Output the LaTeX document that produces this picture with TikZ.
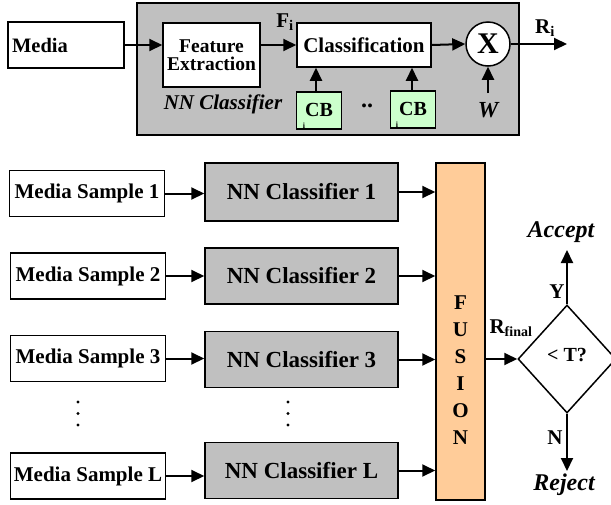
\documentclass[tikz,border=0pt]{standalone}
\usepackage{fontspec}
\setmainfont{Liberation Serif}
\usetikzlibrary{arrows.meta,shapes.geometric}
\newcommand{\fsz}[1]{\fontsize{#1}{#1}\selectfont}
\definecolor{graybox}{HTML}{C0C0C0}
\definecolor{cbgreen}{HTML}{CCFFCC}
\definecolor{fusionor}{HTML}{FFCC99}
\tikzset{
  blk/.style={draw, line width=1.5pt, inner sep=0pt, font=\bfseries\fsz{20}, align=center},
  whitebox/.style={blk, fill=white},
  nnbox/.style={blk, fill=graybox, minimum width=193, minimum height=56, font=\bfseries\fsz{23}},
  msbox/.style={blk, fill=white, minimum width=155, minimum height=46, font=\bfseries\fsz{21}},
  cbbox/.style={blk, fill=cbgreen, minimum width=45, minimum height=37},
  arr/.style={line width=2pt, -{Triangle[length=13pt,width=12pt]}},
  lbl/.style={inner sep=0pt, font=\bfseries\fsz{20}},
  ilbl/.style={inner sep=0pt, font=\bfseries\itshape\fsz{21}},
}
\begin{document}
\begin{tikzpicture}[x=1pt,y=-1pt]
\useasboundingbox (0,0) rectangle (611,504);
% ---------- top part ----------
\node[blk, fill=graybox, minimum width=382, minimum height=132] (outer) at (328,69) {};
\node[whitebox, minimum width=116, minimum height=46, font=\bfseries\fsz{20.5}] (media) at (66,45) {\hspace*{-52pt}Media};
\node[whitebox, minimum width=97, minimum height=64, font=\bfseries\fsz{19.5}] (fe) at (211.5,55) {Feature\\[-1pt]Extraction};
\node[whitebox, minimum width=134, minimum height=44, font=\bfseries\fsz{21}] (cls) at (364,45) {Classification};
\node[draw, circle, line width=1.5pt, fill=white, minimum size=44, inner sep=0pt, font=\bfseries\fsz{30}] (mx) at (488,44) {X};
\node[cbbox] (cb1) at (319,110.5) {\raisebox{2pt}{CB}};
\node[cbbox] (cb2) at (413,109.5) {\raisebox{2pt}{CB}};
\node[inner sep=0pt, font=\bfseries\fsz{8}] (cbi1) at (304,126) {i};
\node[inner sep=0pt, font=\bfseries\fsz{8}] (cbi2) at (397,125) {i};
\node[lbl, font=\bfseries\fsz{24}] (dd) at (367,106) {..};
\node[ilbl] (nnlab) at (223,104) {NN Classifier};
\node[ilbl, font=\bfseries\itshape\fsz{23}] (wlab) at (488,110) {W};
\coordinate (wtail) at (488,93);
\node[lbl, font=\bfseries\fsz{21}] (flab) at (285,22) {F\textsubscript{i}};
\node[lbl, font=\bfseries\fsz{21}] (rlab) at (545,28) {R\textsubscript{i}};
\coordinate (rend) at (567,44);

\draw[arr] (media.east) -- (media.east -| fe.west);
\draw[arr] (cls.west -| fe.east) -- (cls.west);
\draw[arr] (cls.east) -- (mx.west);
\draw[arr] (mx.east) -- (rend);
\draw[arr] (wtail) -- (mx.south);
\draw[arr] (cb1.north -| 316,0) -- (cls.south -| 316,0);
\draw[arr] (cb2.north -| 412,0) -- (cls.south -| 412,0);

% ---------- bottom part ----------
\node[msbox] (ms1) at (87,193.5) {Media Sample 1};
\node[msbox] (ms2) at (88,276) {Media Sample 2};
\node[msbox] (ms3) at (88,358.5) {Media Sample 3};
\node[msbox] (msl) at (88,476) {Media Sample L};

\node[nnbox, minimum height=58] (nn1) at (301.5,192) {NN Classifier 1};
\node[nnbox] (nn2) at (301.5,276) {NN Classifier 2};
\node[nnbox] (nn3) at (301.5,359.5) {NN Classifier 3};
\node[nnbox] (nnl) at (301.5,470.5) {NN Classifier L};

\node[blk, fill=fusionor, minimum width=49, minimum height=337] (fus) at (460.5,331.5) {};
\node[inner sep=0pt, align=center, font=\bfseries\fontsize{21}{27}\selectfont] (fustext) at (460.5,370) {F\\U\\S\\I\\O\\N};

\node[draw, diamond, line width=1.5pt, fill=white, minimum width=98, minimum height=108, inner sep=0pt] (dia) at (567,359) {};
\node[lbl] (tlab) at (567,355) {< T?};
\node[lbl, font=\bfseries\fsz{21}] (rfin) at (511,328) {R\textsubscript{\fsz{14}final}};

\node[ilbl, font=\bfseries\itshape\fsz{24}] (acc) at (561,232) {Accept};
\node[ilbl, font=\bfseries\itshape\fsz{24}] (rej) at (564,485) {Reject};
\coordinate (acctip) at (567,250);
\coordinate (rejtip) at (567,471);
\node[lbl, font=\bfseries\fsz{21}] (ylab) at (557,292) {Y};
\node[lbl, font=\bfseries\fsz{21}] (nlab) at (555,438) {N};

\draw[arr] (ms1.east) -- (ms1.east -| nn1.west);
\draw[arr] (ms2.east) -- (ms2.east -| nn2.west);
\draw[arr] (ms3.east) -- (ms3.east -| nn3.west);
\draw[arr] (msl.east) -- (msl.east -| nnl.west);

\draw[arr] (nn1.east) -- (nn1.east -| fus.west);
\draw[arr] (nn2.east) -- (nn2.east -| fus.west);
\draw[arr] (nn3.east) -- (nn3.east -| fus.west);
\draw[arr] (nnl.east) -- (nnl.east -| fus.west);

\draw[arr] (dia.west -| fus.east) -- (dia.west);
\draw[arr] (dia.north) -- (acctip);
\draw[arr] (dia.south) -- (rejtip);

% dots
\foreach \yy in {402,413.5,425}{
  \fill (78,\yy) circle (1.6pt);
  \fill (288,\yy) circle (1.6pt);
}
\end{tikzpicture}
\end{document}
